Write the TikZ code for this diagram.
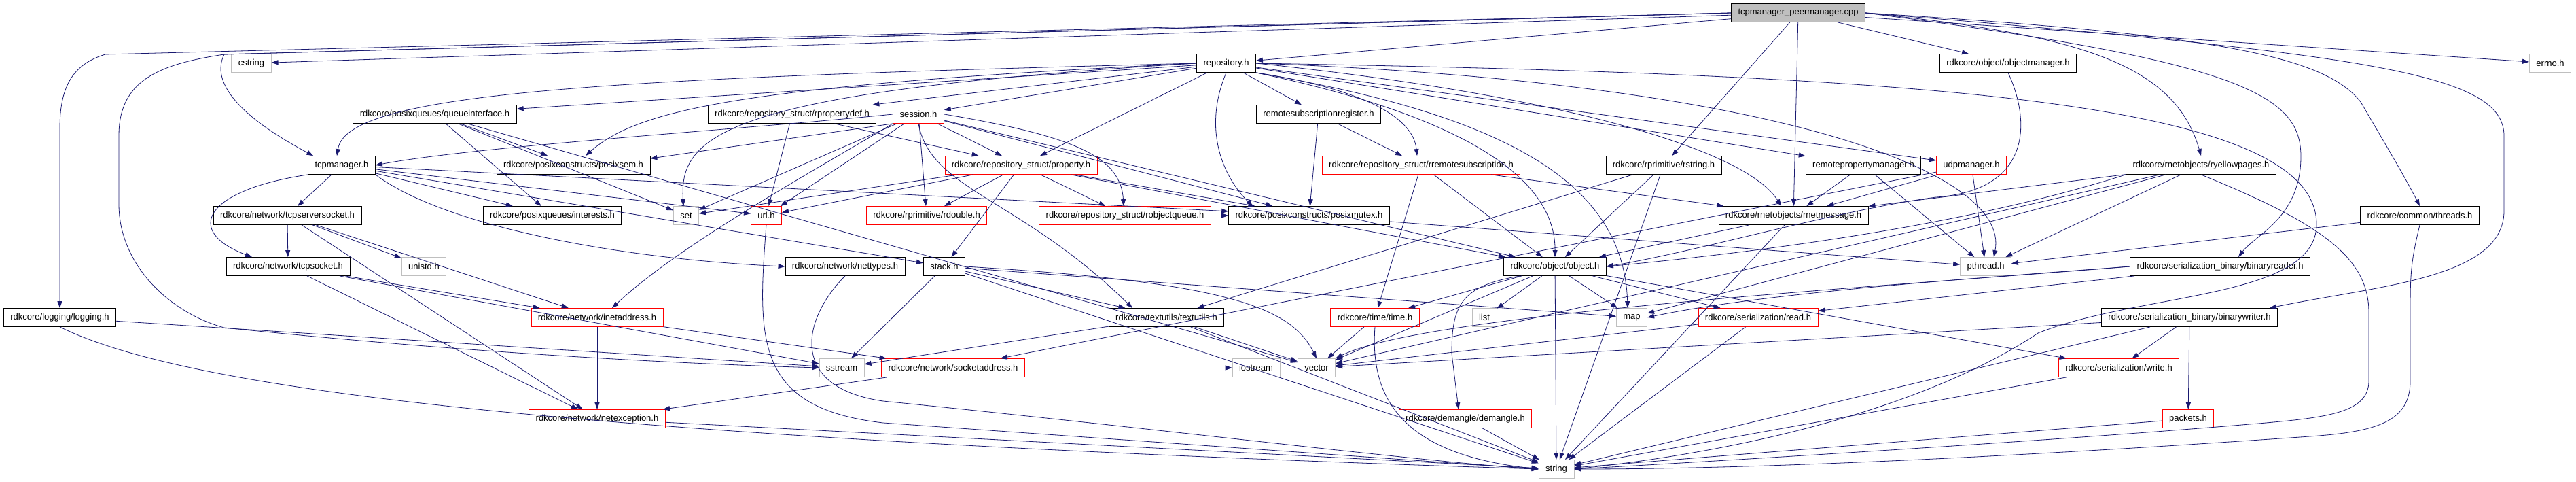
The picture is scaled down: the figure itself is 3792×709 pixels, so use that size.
\documentclass[tikz,border=0pt]{standalone}
\usepackage{fontspec}
\setmainfont{Liberation Sans}
\usetikzlibrary{arrows.meta}
\definecolor{edgeblue}{HTML}{191970}
\definecolor{boxgray}{HTML}{BFBFBF}

\begin{document}
\begin{tikzpicture}[x=1pt,y=-1pt,
  file/.style={draw=black,line width=0.8pt,minimum height=27pt,inner xsep=10pt,inner ysep=0pt,
    font=\fontsize{13}{15}\selectfont},
  redfile/.style={file,draw=red},
  sysfile/.style={file,draw=boxgray},
  dep/.style={draw=edgeblue,line width=0.8pt,-{Triangle[length=10pt,width=7pt]}}]
\useasboundingbox (0,0) rectangle (3792,709);
% files
\node[file,fill=boxgray] (root) at (2647,19) {tcpmanager\_peermanager.cpp};
\node[sysfile] (cstring) at (370,93) {cstring};
\node[file] (repository) at (1805,93) {repository.h};
\node[file] (objmanager) at (2956,93) {rdkcore/object/objectmanager.h};
\node[sysfile] (errno) at (3754,93) {errno.h};
\node[file] (queueif) at (640,168) {rdkcore/posixqueues/queueinterface.h};
\node[file] (propdef) at (1166,168) {rdkcore/repository\_struct/rpropertydef.h};
\node[redfile] (session) at (1352,168) {session.h};
\node[file] (subregister) at (1941,168) {remotesubscriptionregister.h};
\node[file] (tcpmanager) at (503,243) {tcpmanager.h};
\node[file] (posixsem) at (844,243) {rdkcore/posixconstructs/posixsem.h};
\node[redfile] (property) at (1503,243) {rdkcore/repository\_struct/property.h};
\node[redfile] (remotesub) at (2092,243) {rdkcore/repository\_struct/rremotesubscription.h};
\node[file] (rstring) at (2449,243) {rdkcore/rprimitive/rstring.h};
\node[file] (propmanager) at (2743,243) {remotepropertymanager.h};
\node[redfile] (udpmanager) at (2902,243) {udpmanager.h};
\node[file] (yellowpages) at (3240,243) {rdkcore/rnetobjects/ryellowpages.h};
\node[file] (serversocket) at (423,317) {rdkcore/network/tcpserversocket.h};
\node[file] (interests) at (813,317) {rdkcore/posixqueues/interests.h};
\node[sysfile] (set) at (1010,317) {set};
\node[redfile] (url) at (1128,317) {url.h};
\node[redfile] (rdouble) at (1364,317) {rdkcore/rprimitive/rdouble.h};
\node[redfile] (objqueue) at (1656,317) {rdkcore/repository\_struct/robjectqueue.h};
\node[file] (posixmutex) at (1927,317) {rdkcore/posixconstructs/posixmutex.h};
\node[file] (netmessage) at (2640,317) {rdkcore/rnetobjects/rnetmessage.h};
\node[file] (threads) at (3562,317) {rdkcore/common/threads.h};
\node[file] (tcpsocket) at (424,392) {rdkcore/network/tcpsocket.h};
\node[sysfile] (unistd) at (624,392) {unistd.h};
\node[file] (nettypes) at (1244,392) {rdkcore/network/nettypes.h};
\node[file] (stack) at (1390,392) {stack.h};
\node[file] (object) at (2289,392) {rdkcore/object/object.h};
\node[sysfile] (pthread) at (2923,392) {pthread.h};
\node[file] (binreader) at (3268,392) {rdkcore/serialization\_binary/binaryreader.h};
\node[file] (logging) at (88,467) {rdkcore/logging/logging.h};
\node[redfile] (inetaddress) at (879,467) {rdkcore/network/inetaddress.h};
\node[file] (textutils) at (1717,467) {rdkcore/textutils/textutils.h};
\node[redfile] (time) at (2024,467) {rdkcore/time/time.h};
\node[sysfile] (list) at (2185,467) {list};
\node[sysfile] (map) at (2402,467) {map};
\node[redfile] (read) at (2588,467) {rdkcore/serialization/read.h};
\node[file] (binwriter) at (3223,467) {rdkcore/serialization\_binary/binarywriter.h};
\node[sysfile] (sstream) at (1239,541) {sstream};
\node[redfile] (sockaddress) at (1403,541) {rdkcore/network/socketaddress.h};
\node[sysfile] (iostream) at (1849,541) {iostream};
\node[sysfile] (vector) at (1938,541) {vector};
\node[redfile] (write) at (3119,541) {rdkcore/serialization/write.h};
\node[redfile] (netexception) at (879,616) {rdkcore/network/netexception.h};
\node[redfile] (demangle) at (2157,616) {rdkcore/demangle/demangle.h};
\node[redfile] (packets) at (3221,616) {packets.h};
\node[sysfile] (string) at (2291,690) {string};
% cpp file
\draw[dep] (root) -- (cstring);
\draw[dep] (root.west) -- (155,80) .. controls (105,95) and (88,130) .. (88,190) -- (logging.north);
\draw[dep] (root.west) -- (330,80) .. controls (310,120) and (350,170) .. ([xshift=8pt]tcpmanager.north west);
\draw[dep] (root.west) -- (330,80) .. controls (230,95) and (175,120) .. (175,200) -- (175,300)
  .. controls (175,390) and (250,460) .. (330,482) .. controls (700,520) and (1000,535) .. (sstream.west);
\draw[dep] (root) -- (repository);
\draw[dep] (root) -- (objmanager);
\draw[dep] (root) -- (errno);
\draw[dep] (root) -- (netmessage);
\draw[dep] (root) -- (rstring);
\draw[dep] (root.east) .. controls (3050,50) and (3200,90) .. (yellowpages.north);
\draw[dep] (root.east) .. controls (3250,50) and (3420,80) .. (3475,150) .. controls (3510,210) and (3540,260) .. (threads.north);
\draw[dep] (root.east) .. controls (3300,90) and (3387,140) .. (3387,230) .. controls (3387,320) and (3320,345) .. ([xshift=27pt]binreader.north);
\draw[dep] (root.east) .. controls (3500,80) and (3686,110) .. (3686,200) -- (3686,310)
  .. controls (3686,410) and (3500,420) .. ([xshift=-12pt]binwriter.north east);
% repository.h
\draw[dep] (repository) -- (queueif);
\draw[dep] (repository) -- (propdef);
\draw[dep] (repository) -- (session);
\draw[dep] (repository) -- (subregister);
\draw[dep] (repository) -- (property);
\draw[dep] (repository) -- (propmanager);
\draw[dep] (repository) -- (udpmanager);
\draw[dep] (repository.west) .. controls (900,115) and (510,135) .. ([xshift=-7pt]tcpmanager.north);
\draw[dep] (repository.west) .. controls (1100,125) and (940,160) .. ([xshift=18pt]posixsem.north);
\draw[dep] (repository.west) .. controls (1060,135) and (1000,200) .. ([xshift=-4pt]set.north);
\draw[dep] (repository.south) .. controls (1770,190) and (1800,260) .. ([xshift=-83pt]posixmutex.north);
\draw[dep] (repository.south east) .. controls (2000,130) and (2080,170) .. ([xshift=-6pt]remotesub.north);
\draw[dep] (repository.south east) .. controls (2150,170) and (2290,260) .. (object.north);
\draw[dep] (repository.south east) .. controls (2220,170) and (2390,270) .. ([xshift=-6pt]map.north);
\draw[dep] (repository.east) .. controls (2300,140) and (2570,220) .. ([xshift=-18pt]netmessage.north);
\draw[dep] (repository.east) .. controls (2600,120) and (2960,250) .. ([xshift=12pt]pthread.north);
\draw[dep] (repository.east) .. controls (2850,110) and (3410,150) .. (3410,330) .. controls (3410,440) and (3150,430) .. (3000,490)
  .. controls (2850,590) and (2600,660) .. (string.east);
% second rank
\draw[dep] (queueif) -- (posixsem);
\draw[dep] (queueif) -- (interests);
\draw[dep] (queueif) -- (set);
\draw[dep] (queueif) -- (vector);
\draw[dep] (propdef) -- (url);
\draw[dep] (propdef) -- (property);
\draw[dep] (session) -- (property);
\draw[dep] (session) -- (rdouble);
\draw[dep] (session.east) .. controls (1580,200) and (1650,230) .. ([xshift=-2pt]objqueue.north);
\draw[dep] (session) -- (posixmutex);
\draw[dep] (session.south west) -- ([yshift=-4pt]posixsem.north east);
\draw[dep] (session) -- (url);
\draw[dep] (session) -- (set);
\draw[dep] (session.west) .. controls (1100,190) and (700,215) .. (tcpmanager.east);
\draw[dep] (session.south) .. controls (1370,280) and (1500,290) .. ([xshift=-50pt]textutils.north);
\draw[dep] (session) -- (object);
\draw[dep] (session.south west) .. controls (1200,250) and (1000,360) .. ([xshift=22pt]inetaddress.north);
\draw[dep] (subregister) -- (posixmutex);
\draw[dep] (subregister) -- (remotesub);
% third rank
\draw[dep] (tcpmanager) -- (serversocket);
\draw[dep] (tcpmanager.south west) .. controls (300,280) and (270,340) .. ([xshift=-53pt]tcpsocket.north);
\draw[dep] (tcpmanager) -- (interests);
\draw[dep] (tcpmanager) -- (posixmutex);
\draw[dep] (tcpmanager.south east) .. controls (650,330) and (900,380) .. (nettypes.west);
\draw[dep] (tcpmanager) -- (stack);
\draw[dep] (tcpmanager) -- (url);
\draw[dep] (property) -- (rdouble);
\draw[dep] (property) -- (objqueue);
\draw[dep] (property) -- (posixmutex);
\draw[dep] (property) -- (url);
\draw[dep] (property) -- (set);
\draw[dep] (property) -- (object);
\draw[dep] (property) -- (stack);
\draw[dep] (remotesub) -- (object);
\draw[dep] (remotesub) -- (time);
\draw[dep] (remotesub) -- (netmessage);
\draw[dep] (rstring) -- (object);
\draw[dep] (rstring) -- (string);
\draw[dep] (rstring) -- (textutils);
\draw[dep] (propmanager) -- (netmessage);
\draw[dep] (propmanager) -- (pthread);
\draw[dep] (udpmanager) -- (netmessage);
\draw[dep] (udpmanager) -- (pthread);
\draw[dep] (udpmanager) -- (sockaddress);
\draw[dep] (yellowpages) -- (netmessage);
\draw[dep] (yellowpages.south west) .. controls (2900,330) and (2600,370) .. (object.east);
\draw[dep] (yellowpages) -- (pthread);
\draw[dep] (yellowpages) -- (map);
\draw[dep] (yellowpages) -- (vector);
\draw[dep] (yellowpages.south) .. controls (3420,330) and (3487,380) .. (3487,460) -- (3487,560)
  .. controls (3487,610) and (3420,615) .. (3300,625) .. controls (3000,650) and (2500,680) .. (string.east);
\draw[dep] (objmanager.south) .. controls (2990,180) and (2990,280) .. (2850,290) .. controls (2700,310) and (2500,370) .. (object.east);
% fourth rank
\draw[dep] (serversocket) -- (tcpsocket);
\draw[dep] (serversocket) -- (unistd);
\draw[dep] (serversocket) -- (inetaddress);
\draw[dep] (serversocket) -- (netexception);
\draw[dep] (objqueue) -- (posixmutex);
\draw[dep] (posixmutex) -- (pthread);
\draw[dep] (netmessage) -- (object);
\draw[dep] (netmessage) -- (string);
\draw[dep] (threads) -- (pthread);
\draw[dep] (threads.south) .. controls (3550,380) and (3548,400) .. (3548,450) -- (3548,560)
  .. controls (3548,620) and (3500,635) .. (3400,642) .. controls (3000,670) and (2600,690) .. (string.east);
% fifth rank
\draw[dep] (tcpsocket) -- (inetaddress);
\draw[dep] (tcpsocket) -- (netexception);
\draw[dep] (tcpsocket) -- (sstream);
\draw[dep] (nettypes.south) .. controls (1180,470) and (1160,570) .. (1300,590) .. controls (1700,630) and (2100,680) .. (string.west);
\draw[dep] (stack) -- (textutils);
\draw[dep] (stack) -- (sstream);
\draw[dep] (stack) -- (string);
\draw[dep] (stack.east) .. controls (1800,415) and (1900,450) .. (vector.north);
\draw[dep] (stack) -- (map);
\draw[dep] (object) -- (time);
\draw[dep] (object) -- (list);
\draw[dep] (object) -- (map);
\draw[dep] (object) -- (string);
\draw[dep] (object) -- (read);
\draw[dep] (object) -- (vector);
\draw[dep] (object) -- (write);
\draw[dep] ([xshift=25pt]object.south west) .. controls (2150,420) and (2137,450) .. (2137,520) -- ([xshift=-10pt]demangle.north);
\draw[dep] (binreader) -- (read);
\draw[dep] (binreader.west) .. controls (2800,420) and (2100,460) .. (vector.north east);
\draw[dep] (binreader.west) .. controls (2900,410) and (2600,430) .. (map.east);
% lower ranks
\draw[dep] (logging) -- (sstream);
\draw[dep] (logging.south) .. controls (250,560) and (700,640) .. (string.west);
\draw[dep] (inetaddress) -- (netexception);
\draw[dep] (inetaddress) -- (sockaddress);
\draw[dep] (textutils) -- (vector);
\draw[dep] (textutils) -- (sstream);
\draw[dep] (textutils) -- (string);
\draw[dep] (time) -- (vector);
\draw[dep] (time.south) .. controls (2015,600) and (2080,670) .. (string.west);
\draw[dep] (read) -- (vector);
\draw[dep] (read) -- (string);
\draw[dep] (binwriter) -- (write);
\draw[dep] (binwriter) -- (packets);
\draw[dep] (binwriter) -- (vector);
\draw[dep] (binwriter) -- (string);
\draw[dep] (url.south) .. controls (1115,500) and (1110,600) .. (1300,622) -- (string.west);
\draw[dep] (sockaddress) -- (netexception);
\draw[dep] (sockaddress) -- (iostream);
\draw[dep] (write) -- (string);
\draw[dep] (packets) -- (string);
\draw[dep] (demangle) -- (string);
\draw[dep] (netexception) -- (string);
\end{tikzpicture}
\end{document}
